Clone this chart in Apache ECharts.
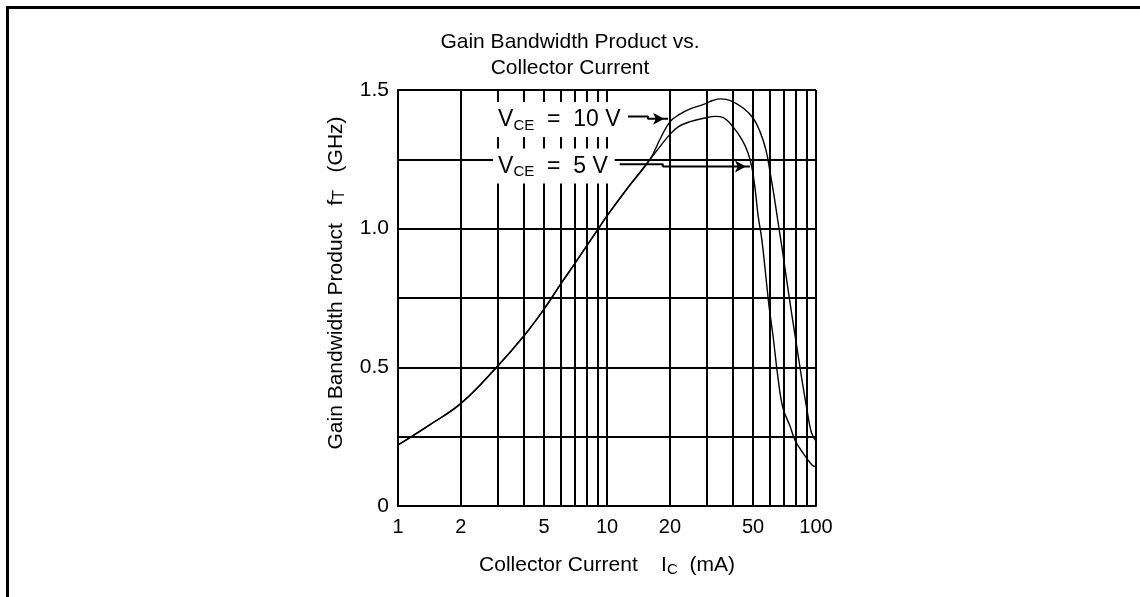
<!DOCTYPE html>
<html>
<head>
<meta charset="utf-8">
<title>Gain Bandwidth Product vs. Collector Current</title>
<script src="https://cdn.jsdelivr.net/npm/echarts@6/dist/echarts.min.js"></script>
<style>
  html, body { margin: 0; padding: 0; background: #fff; }
  #chart { width: 1140px; height: 597px; }
</style>
</head>
<body>
<div id="chart"></div>
<script>
// collector current (mA) -> gain bandwidth product fT (GHz)
var current10V = [1, 1.4, 2, 3, 4, 5, 6, 7, 8, 9, 10, 12.5, 16, 18, 20, 22, 25, 29, 32, 35, 39, 44.8, 50, 54, 57.6, 60.3, 63, 65.8, 68.8, 72.6, 76.8, 81.1, 85.7, 90.6, 94.9, 100];
var gain10V = [0.22, 0.29, 0.37, 0.505, 0.613, 0.71, 0.8, 0.873, 0.938, 0.995, 1.046, 1.145, 1.248, 1.325, 1.385, 1.41, 1.432, 1.448, 1.462, 1.468, 1.462, 1.435, 1.399, 1.349, 1.284, 1.204, 1.118, 1.024, 0.93, 0.808, 0.685, 0.57, 0.454, 0.346, 0.267, 0.234];

var current5V = [1, 1.4, 2, 3, 4, 5, 6, 7, 8, 9, 10, 12.5, 16, 20, 22, 25, 29, 33, 36, 40.1, 44.3, 47.3, 49.4, 51.2, 52.8, 55.1, 57, 59.6, 62.3, 65.8, 69.5, 75.1, 79.3, 86.7, 95.7, 100];
var gain5V = [0.22, 0.29, 0.37, 0.505, 0.613, 0.71, 0.8, 0.873, 0.938, 0.995, 1.046, 1.145, 1.248, 1.34, 1.368, 1.386, 1.398, 1.405, 1.4, 1.367, 1.32, 1.273, 1.219, 1.14, 1.049, 0.959, 0.858, 0.721, 0.613, 0.462, 0.353, 0.288, 0.238, 0.191, 0.148, 0.141];

// axis ticks
var xGridTicks = [1, 2, 3, 4, 5, 6, 7, 8, 9, 10, 20, 30, 40, 50, 60, 70, 80, 90, 100];
var xLabelTicks = [1, 2, 5, 10, 20, 50, 100];

// V_CE annotations: label anchor and leader line with arrow
var noteCurrent = [2.85, 2.85];
var noteGain = [1.394, 1.226];
var noteText = ['10', '5'];
var lead10Current = [12.6, 15.7, 15.7, 19.6];
var lead10Gain = [1.404, 1.404, 1.396, 1.396];
var lead5Current = [11.5, 18.5, 18.5, 48.3];
var lead5Gain = [1.232, 1.232, 1.224, 1.224];

var FONT = 'Liberation Sans';

function pairs(xs, ys) {
  return xs.map(function (x, i) { return [x, ys[i]]; });
}

var chart = echarts.init(document.getElementById('chart'));

var curveStyle = { color: '#000', width: 1.4 };

chart.setOption({
  backgroundColor: '#fff',
  animation: false,
  title: {
    text: 'Gain Bandwidth Product vs.\nCollector Current',
    left: 'center',
    top: 24,
    textStyle: {
      color: '#000',
      fontFamily: FONT,
      fontWeight: 'normal',
      fontSize: 21,
      lineHeight: 26
    }
  },
  graphic: [
    // outer frame (top and left edges)
    { type: 'rect', shape: { x: 6, y: 6, width: 1134, height: 3 }, style: { fill: '#000' } },
    { type: 'rect', shape: { x: 6, y: 6, width: 3, height: 591 }, style: { fill: '#000' } }
  ],
  grid: {
    left: 398,
    right: 324,
    top: 90,
    bottom: 91
  },
  xAxis: {
    type: 'log',
    logBase: 10,
    min: 1,
    max: 100,
    name: 'Collector Current    I{s|C}  (mA)',
    nameLocation: 'middle',
    nameGap: 48,
    nameTextStyle: {
      color: '#000',
      fontFamily: FONT,
      fontSize: 21,
      rich: {
        s: { fontSize: 15, fontFamily: FONT, color: '#000', padding: [8, 0, 0, 0] }
      }
    },
    axisLine: { show: true, lineStyle: { color: '#000', width: 2 } },
    axisTick: { show: false, customValues: xGridTicks },
    axisLabel: {
      customValues: xLabelTicks,
      color: '#000',
      fontFamily: FONT,
      fontSize: 20,
      margin: 11
    },
    splitLine: { show: true, lineStyle: { color: '#000', width: 2 } }
  },
  yAxis: {
    type: 'value',
    min: 0,
    max: 1.5,
    interval: 0.25,
    name: 'Gain Bandwidth Product   f{s|T}   (GHz)',
    nameLocation: 'middle',
    nameGap: 50,
    nameTextStyle: {
      color: '#000',
      fontFamily: FONT,
      fontSize: 21,
      padding: [0, 0, 0, 30],
      rich: {
        s: { fontSize: 16, fontFamily: FONT, color: '#000', padding: [8, 0, 0, 0] }
      }
    },
    axisLine: { show: true, lineStyle: { color: '#000', width: 2 } },
    axisTick: { show: false },
    axisLabel: {
      color: '#000',
      fontFamily: FONT,
      fontSize: 21,
      margin: 9,
      formatter: function (v) {
        if (v === 0) return '0';
        return v % 0.5 === 0 ? v.toFixed(1) : '';
      }
    },
    splitLine: { show: true, lineStyle: { color: '#000', width: 2 } }
  },
  series: [
    {
      name: 'VCE = 10 V',
      type: 'line',
      data: pairs(current10V, gain10V),
      smooth: 0.4,
      symbol: 'none',
      lineStyle: curveStyle,
      z: 5
    },
    {
      name: 'VCE = 5 V',
      type: 'line',
      data: pairs(current5V, gain5V),
      smooth: 0.4,
      symbol: 'none',
      lineStyle: curveStyle,
      z: 5
    },
    {
      // leader lines
      type: 'line',
      data: pairs(lead10Current, lead10Gain),
      symbol: 'none',
      lineStyle: { color: '#000', width: 2 },
      z: 6
    },
    {
      type: 'line',
      data: pairs(lead5Current, lead5Gain),
      symbol: 'none',
      lineStyle: { color: '#000', width: 2 },
      z: 6
    },
    {
      // arrow heads
      type: 'scatter',
      data: [
        [lead10Current[3], lead10Gain[3]],
        [lead5Current[3], lead5Gain[3]]
      ],
      symbol: 'arrow',
      symbolSize: [9, 11],
      symbolRotate: -90,
      symbolOffset: [-4, 0],
      itemStyle: { color: '#000', opacity: 1 },
      z: 7
    },
    {
      // V_CE labels with white boxes over the grid
      type: 'scatter',
      data: pairs(noteCurrent, noteGain),
      symbolSize: 0,
      itemStyle: { opacity: 1 },
      z: 8,
      label: {
        show: true,
        position: 'right',
        distance: 0,
        backgroundColor: '#fff',
        padding: [5, 7, 4, 5],
        formatter: function (p) {
          return '{v|V}{s|CE}{v|  =  ' + noteText[p.dataIndex] + ' V}';
        },
        rich: {
          v: { fontSize: 23, lineHeight: 26, fontFamily: FONT, color: '#000' },
          s: { fontSize: 15, lineHeight: 15, verticalAlign: 'bottom', fontFamily: FONT, color: '#000' }
        }
      }
    }
  ]
});
</script>
</body>
</html>
